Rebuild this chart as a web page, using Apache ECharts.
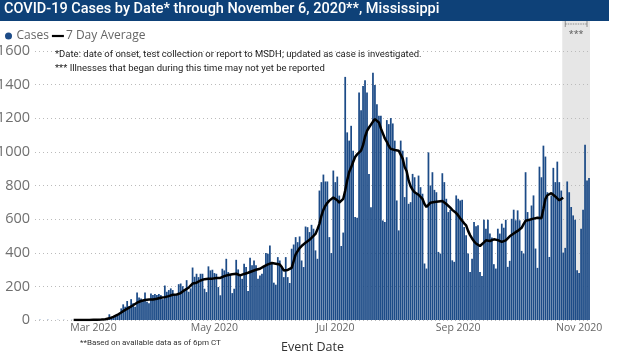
<!DOCTYPE html>
<html>
<head>
<meta charset="utf-8">
<script src="https://cdn.jsdelivr.net/npm/echarts@6/dist/echarts.min.js"></script>
<style>
  html, body { margin: 0; padding: 0; background: #fff; }
  #chart { width: 622px; height: 352px; }
</style>
</head>
<body>
<div id="chart"></div>
<script>
// daily cases by event date, starting Feb 1 2020
const startDate = [2020, 1, 1]
const cases = [
  0, 0, 1, 0, 0, 0, 1, 0, 0, 0, 0, 1, 0, 0, 1, 0, 0, 0, 1, 0, 0, 1, 0, 0, 1, 0, 1, 1,
  2, 3, 4, 5, 6, 5, 3, 8, 10,
  34, 16, 20, 30, 34, 40, 69, 93, 79, 113, 83, 124, 99, 79, 164, 134, 128, 118, 164, 109,
  99, 158, 148, 154, 148, 154, 148, 124, 205, 168, 178, 188, 178, 152, 148, 213, 217, 201,
  178, 237, 168, 188, 312, 257,
  275, 255, 275, 275, 186, 166, 319, 295, 299, 279, 275, 196, 147, 305, 295, 364, 285, 271,
  160, 186, 358, 301, 261, 245, 335, 315, 172, 370, 325, 354, 325, 245, 265, 275, 315, 398,
  394, 443, 335, 222, 210, 374, 354, 311, 255, 374, 255, 220, 424, 449, 493, 463, 497, 354,
  315, 556, 552, 523, 566, 543, 414, 364, 770, 820, 865, 824, 824, 493, 398,
  889, 820, 853, 740, 440, 520,
  1446, 1116, 1067, 1155, 1007, 612, 608, 1353, 1248, 1392, 1426, 1353, 869, 671, 1471, 1398,
  1284, 1215, 1215, 592, 583, 1189, 1165, 1201, 1169, 1067, 711, 533, 1067, 1007, 731, 968,
  691, 701, 869, 849, 751, 859, 790, 751, 336, 306, 997, 800, 879, 774, 760, 405, 395, 873,
  820, 721, 642, 656, 355, 346, 741, 721, 711,
  715, 553, 504, 395, 286, 365, 583, 557, 563, 286, 261, 596, 543, 596, 514, 490, 332, 306,
  543, 514, 573, 549, 596, 316, 352, 602, 656, 593, 652, 593, 411, 395, 879, 642, 593, 681,
  741, 425, 310, 912, 849, 1037, 972, 760, 375, 741, 905, 820, 942, 820, 770, 401, 429, 824,
  760, 672, 622, 596, 296, 280, 543, 656, 1043, 830, 845
]

// 7 day average, Feb 20 .. Oct 24
const avgStart = '2020-02-20'
const avg7 = [
  0, 0, 0, 0, 0, 0, 0, 0, 0, 1, 1, 1, 2, 2, 3, 4,
  5, 7, 10, 14, 19, 24, 30, 37, 45, 52, 60, 68, 74, 80, 88, 96, 103, 108, 113, 116, 119, 121,
  122, 122, 122, 123, 126, 129, 132, 134, 136, 138, 142, 146, 150, 152, 152, 153, 160, 168,
  178, 185, 192, 205, 217, 227,
  222, 228, 235, 240, 243, 245, 246, 247, 246, 248, 250, 250, 250, 255, 261, 265, 268, 270,
  272, 274, 275, 270, 265, 268, 274, 279, 281, 283, 290, 296, 299, 302, 305, 311, 319, 325,
  331, 337, 339, 337, 335, 333, 330, 315, 295, 295, 298, 302, 310, 350, 390, 410, 428, 440,
  450, 460, 470, 477, 488, 500, 512, 540, 572, 620, 655, 680, 697, 710, 720,
  728, 722, 712, 698, 687, 720, 770, 830, 880, 908, 940, 970, 985, 995, 1007, 1040, 1090, 1125,
  1145, 1162, 1180, 1195, 1200, 1175, 1140, 1110, 1080, 1060, 1035, 1018, 1013, 1011, 1010, 1007,
  1003, 960, 910, 885, 830, 795, 775, 760, 752, 745, 737, 720, 690, 672, 685, 698, 702, 702,
  701, 705, 710, 708, 698, 690, 680, 668, 655, 645, 636, 622, 605, 590, 575, 563,
  530, 505, 485, 468, 455, 448, 440, 445, 462, 474, 472, 470, 475, 480, 484, 475, 466, 465,
  470, 474, 485, 498, 506, 514, 521, 530, 538, 548, 570, 590, 594, 596, 596, 603, 610, 608,
  603, 605, 660, 720, 742, 750, 754, 745, 735, 725, 712, 715, 727
]

const tickLabels = {
  '2020-03-01': 'Mar 2020',
  '2020-05-01': 'May 2020',
  '2020-07-01': 'Jul 2020',
  '2020-09-01': 'Sep 2020',
  '2020-11-01': 'Nov 2020'
}
const lateStart = '2020-10-24'   // shaded: illnesses may not yet be reported

const dates = cases.map((v, i) => {
  const t = new Date(Date.UTC(startDate[0], startDate[1], startDate[2] + i))
  return t.toISOString().slice(0, 10)
})
const avgOffset = dates.indexOf(avgStart)
const avgData = dates.map((d, i) => {
  const k = i - avgOffset
  return k >= 0 && k < avg7.length ? avg7[k] : null
})

const chart = echarts.init(document.getElementById('chart'))
const font = 'Open Sans, sans-serif'
const small = 'Roboto, sans-serif'

chart.setOption({
  animation: false,
  grid: { left: 35, right: 32, top: 51, bottom: 32, outerBoundsMode: 'none' },
  legend: {
    left: 0,
    top: 25,
    itemWidth: 12,
    itemHeight: 7,
    itemGap: 3,
    symbolKeepAspect: true,
    textStyle: { fontFamily: font, fontSize: 12, color: '#666', padding: [0, 0, 0, -3] },
    data: [
      { name: 'Cases', icon: 'circle' },
      { name: '7 Day Average', icon: 'path://M0,0H12V2.2H0Z', itemStyle: { color: '#000' } }
    ]
  },
  xAxis: {
    type: 'category',
    data: dates,
    boundaryGap: true,
    axisLine: { show: false },
    axisTick: { show: false },
    axisLabel: {
      interval: (i, v) => !!tickLabels[v],
      formatter: v => tickLabels[v] || '',
      fontFamily: font,
      fontSize: 10.5,
      color: '#666',
      margin: 3
    },
    name: 'Event Date',
    nameLocation: 'middle',
    nameGap: 21,
    nameTextStyle: { fontFamily: font, fontSize: 12.5, color: '#333' }
  },
  yAxis: {
    type: 'value',
    min: 0,
    max: 1600,
    interval: 200,
    axisLabel: { fontFamily: font, fontSize: 14.5, color: '#707070', margin: 5, formatter: v => String(v) },
    splitLine: { lineStyle: { type: [1, 3], color: '#bbb', width: 1 } }
  },
  series: [
    {
      name: 'Cases',
      type: 'bar',
      data: cases,
      barCategoryGap: '12%',
      itemStyle: { color: '#1c4b87' },
      z: 2
    },
    {
      name: '7 Day Average',
      type: 'line',
      data: avgData,
      symbol: 'none',
      connectNulls: false,
      lineStyle: { color: '#000', width: 2.5 },
      itemStyle: { color: '#000' },
      z: 3
    }
  ]
})

// shaded late period + header texts, placed through the axis scale
const i0 = dates.indexOf(lateStart)
const i1 = dates.length - 1
const bw = chart.convertToPixel({ xAxisIndex: 0 }, dates[1]) - chart.convertToPixel({ xAxisIndex: 0 }, dates[0])
const xa = chart.convertToPixel({ xAxisIndex: 0 }, dates[i0]) - bw / 2
const xb = chart.convertToPixel({ xAxisIndex: 0 }, dates[i1]) + bw / 2
const y0 = chart.convertToPixel({ yAxisIndex: 0 }, 0)
const xm = (xa + xb) / 2

chart.setOption({
  graphic: [
    { type: 'rect', z: -10, shape: { x: xa, y: 18, width: xb - xa, height: y0 - 18 }, style: { fill: '#e6e6e6' } },
    { type: 'rect', shape: { x: 0, y: 0, width: 609, height: 21 }, style: { fill: '#0e4178' } },
    { type: 'text', left: 4, top: 2, style: { text: 'COVID-19 Cases by Date* through November 6, 2020**, Mississippi', fill: '#fff', font: '500 14.5px Roboto, sans-serif' } },
    { type: 'line', shape: { x1: xa + 3, y1: 24, x2: xb - 3, y2: 24 }, style: { stroke: '#777', lineWidth: 0.8, lineDash: [1.5, 1] } },
    { type: 'line', shape: { x1: xa + 3, y1: 21, x2: xa + 3, y2: 27 }, style: { stroke: '#777', lineWidth: 0.8 } },
    { type: 'line', shape: { x1: xb - 3, y1: 21, x2: xb - 3, y2: 27 }, style: { stroke: '#777', lineWidth: 0.8 } },
    { type: 'text', x: xm, y: 30, style: { text: '***', fill: '#555', font: '9px Open Sans, sans-serif', textAlign: 'center' } },
    { type: 'text', left: 55, top: 50, style: { text: '*Date: date of onset, test collection or report to MSDH; updated as case is investigated.', fill: '#222', font: '9.5px ' + small } },
    { type: 'text', left: 55, top: 64, style: { text: '*** Illnesses that began during this time may not yet be reported', fill: '#222', font: '9.5px ' + small } },
    { type: 'text', left: 80, top: 339, style: { text: '**Based on available data as of 6pm CT', fill: '#333', font: '8px ' + small } }
  ]
})
</script>
</body>
</html>
